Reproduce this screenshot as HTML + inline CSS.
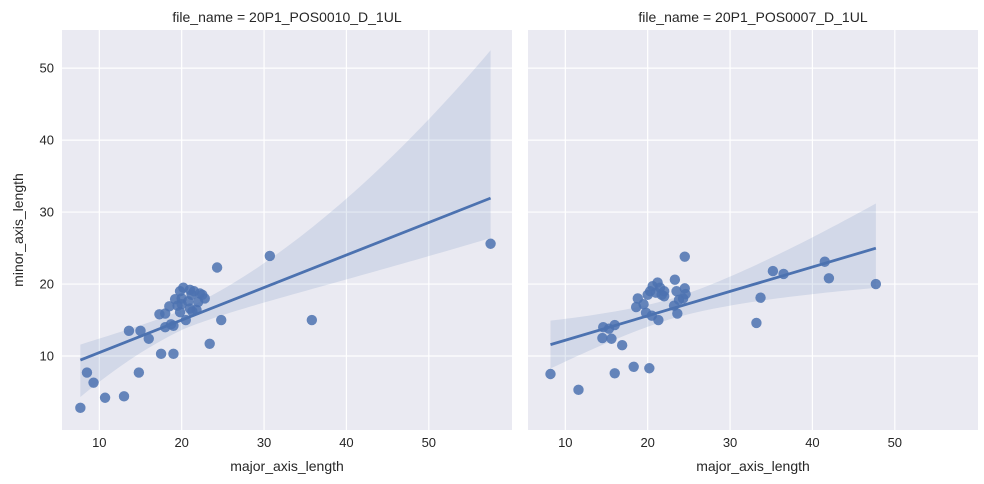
<!DOCTYPE html>
<html><head><meta charset="utf-8"><style>
body{margin:0;background:#fff;}
svg{display:block;font-family:"Liberation Sans","DejaVu Sans",sans-serif;}
</style></head><body>
<svg id="chart" width="984" height="484"></svg>
<script>
const xTicks=[10,20,30,40,50];
const yTicks=[10,20,30,40,50];
const panelTitles=["file_name = 20P1_POS0010_D_1UL","file_name = 20P1_POS0007_D_1UL"];
const leftX=[7.7,8.5,9.3,10.7,13,14.8,13.6,15,16,17.3,17.5,18,18,18.5,19,18.7,19,19.2,19.5,19.8,19.8,20,20.2,20.5,20.8,21,21.2,21.3,21.5,21.8,22,22.2,22.5,22.8,21,20,24.3,24.8,23.4,30.7,35.8,57.5];
const leftY=[2.8,7.7,6.3,4.2,4.4,7.7,13.5,13.5,12.4,15.8,10.3,15.9,14,16.9,10.3,14.4,14.2,17.9,17,16.1,19,18,19.5,15,17.6,19.2,18.5,16.2,19,16.4,17.5,18.7,18.5,18,16.6,17.2,22.3,15,11.7,23.9,15,25.6];
const rightX=[8.2,11.6,14.5,14.6,15.3,15.6,16,16,16.9,18.3,18.6,18.8,19.5,19.8,20,20.2,20.3,20.5,20.6,21,21.2,21.3,21.5,21.7,22,22,23.2,23.3,23.5,23.6,23.8,24.3,24.5,24.5,24.6,33.2,33.7,35.2,36.5,41.5,42,47.7];
const rightY=[7.5,5.3,12.5,14,13.8,12.4,14.3,7.6,11.5,8.5,16.8,18,17.2,16,18.5,8.3,19,15.6,19.7,18.8,20.2,15,19.5,18.5,19,18.3,17,20.6,19,15.9,17.8,18,23.8,19.4,18.6,14.6,18.1,21.8,21.4,23.1,20.8,20];
const NS="http://www.w3.org/2000/svg";
const svg=document.getElementById('chart');
function mk(t,a,p){const e=document.createElementNS(NS,t);for(const k in a)e.setAttribute(k,a[k]);(p||svg).appendChild(e);return e;}
const yTop=30,yBot=430,pw=450;
const xMin=5.47,xMax=60.1,yMin=-0.28,yMax=55.3;
function ysc(v){return yBot-(v-yMin)/(yMax-yMin)*(yBot-yTop);}
function drawPanel(x0,xs,ysArr,title,idx,showY,bandK){
  const xs_=v=>x0+(v-xMin)/(xMax-xMin)*pw;
  const g=mk('g',{});
  
  
  const bg=mk('rect',{x:x0,y:yTop,width:pw,height:yBot-yTop,fill:'#eaeaf2'},g);
  
  
  xTicks.forEach(t=>{
    const l=mk('line',{x1:xs_(t),x2:xs_(t),y1:yTop,y2:yBot,stroke:'#fff','stroke-width':1.2},g);
    
    
    const tx=mk('text',{x:xs_(t),y:yBot+17,'text-anchor':'middle','font-size':13,fill:'#262626'},g);
    tx.textContent=t;
    
    
  });
  yTicks.forEach(t=>{
    const l=mk('line',{x1:x0,x2:x0+pw,y1:ysc(t),y2:ysc(t),stroke:'#fff','stroke-width':1.2},g);
    
    
    if(showY){
      const tx=mk('text',{x:x0-8,y:ysc(t)+4.5,'text-anchor':'end','font-size':13,fill:'#262626'},g);
      tx.textContent=t;
      
      
    }
  });
  const n=xs.length;let mx=0,my=0;for(let i=0;i<n;i++){mx+=xs[i];my+=ysArr[i];}mx/=n;my/=n;
  let sxx=0,sxy=0;for(let i=0;i<n;i++){sxx+=(xs[i]-mx)**2;sxy+=(xs[i]-mx)*(ysArr[i]-my);}
  const b=sxy/sxx,a=my-b*mx;let sse=0;for(let i=0;i<n;i++)sse+=(ysArr[i]-a-b*xs[i])**2;
  const s=Math.sqrt(sse/(n-2));
  const lo=Math.min(...xs),hi=Math.max(...xs);
  const up=[],dn=[];
  for(let k=0;k<=60;k++){
    const x=lo+(hi-lo)*k/60;const se=2.02*s*Math.sqrt(1/n+(x-mx)**2/sxx);const yv=a+b*x;
    let kU,kL;
    if(x>=mx){const f=(x-mx)/(hi-mx);kU=bandK[0]+(bandK[1]-bandK[0])*f;kL=bandK[0]+(bandK[2]-bandK[0])*f;}
    else{const f=(mx-x)/(mx-lo);kU=bandK[0]+(bandK[3]-bandK[0])*f;kL=bandK[0]+(bandK[4]-bandK[0])*f;}
    up.push(xs_(x)+','+ysc(yv+se*kU));dn.unshift(xs_(x)+','+ysc(yv-se*kL));
  }
  const band=mk('polygon',{points:up.concat(dn).join(' '),fill:'#4c72b0','fill-opacity':0.15},g);
  
  
  xs.forEach((x,i)=>{
    const c=mk('circle',{cx:xs_(x),cy:ysc(ysArr[i]),r:5.2,fill:'#4c72b0','fill-opacity':0.85},g);
    
    
  });
  const ln=mk('line',{x1:xs_(lo),y1:ysc(a+b*lo),x2:xs_(hi),y2:ysc(a+b*hi),stroke:'#4c72b0','stroke-width':2.8},g);
  
  
  const ti=mk('text',{x:x0+pw/2,y:22,'text-anchor':'middle','font-size':14,fill:'#262626'},g);
  ti.textContent=title;
  
  
  const xl=mk('text',{x:x0+pw/2,y:471,'text-anchor':'middle','font-size':14,fill:'#262626'},g);
  xl.textContent='major_axis_length';
  
  
}
drawPanel(62,leftX,leftY,panelTitles[0],0,true,[1.2,3.7,1.0,1.0,2.4]);
drawPanel(528,rightX,rightY,panelTitles[1],1,false,[1.3,1.8,1.6,1.5,1.5]);
const yl=mk('text',{x:23,y:230,'text-anchor':'middle','font-size':14,fill:'#262626',transform:'rotate(-90 23 230)'});
yl.textContent='minor_axis_length';


</script>
</body></html>
